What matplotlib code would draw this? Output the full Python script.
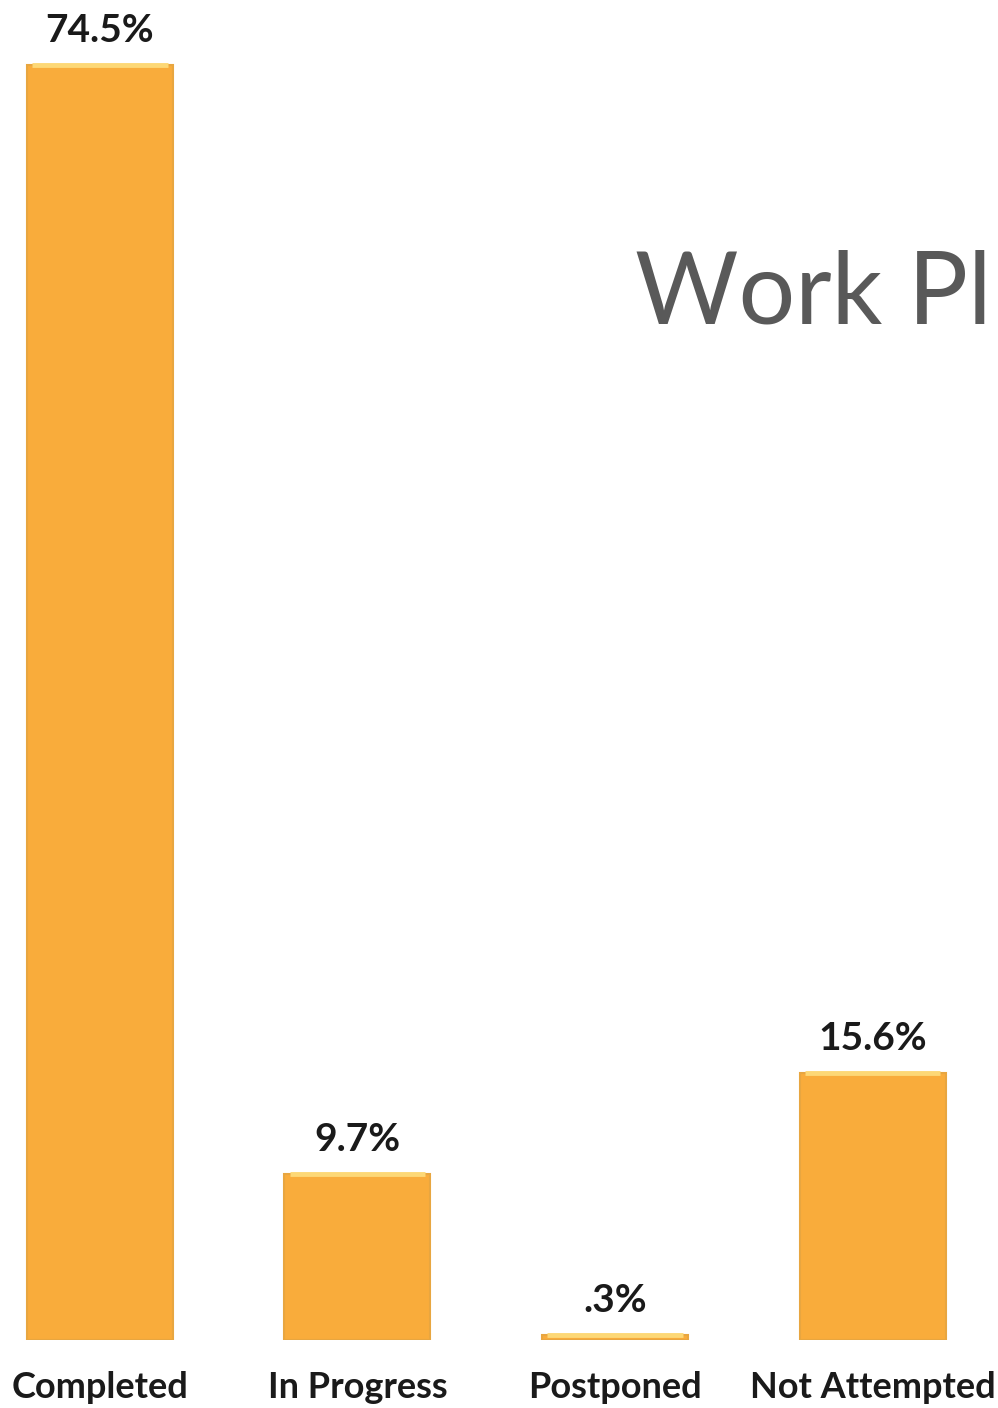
import matplotlib.pyplot as plt

# Work plan status shares (%)
categories = ['Completed', 'In Progress', 'Postponed', 'Not Attempted']
shares = [74.5, 9.7, 0.3, 15.6]
value_labels = ['74.5%', '9.7%', '.3%', '15.6%']

fig = plt.figure(figsize=(9.98, 14.08), dpi=100)
ax = fig.add_axes([0, 0.0483, 1, 0.9517])

bars = ax.bar(range(len(categories)), shares, width=0.567,
              color='#F9AC3B', edgecolor='#E8A640', linewidth=1.5)

# light bevel along the top of each bar
for b in bars:
    x0, y0 = b.get_x(), b.get_height()
    ax.plot([x0 + 0.02, x0 + b.get_width() - 0.02], [y0, y0],
            color='#FDD876', linewidth=3.5, solid_capstyle='butt')

ax.bar_label(bars, labels=value_labels, padding=12, fontsize=28,
             fontweight='bold', family='Lato', color='#1a1a1a')

ax.set_xlim(-0.388, 3.487)
ax.set_ylim(0, 78.3)
ax.set_xticks(range(len(categories)))
ax.set_xticklabels(categories, fontsize=26, fontweight='bold',
                   family='Lato', color='#1a1a1a')
ax.tick_params(axis='x', length=0, pad=22)
ax.set_yticks([])
for s in ax.spines.values():
    s.set_visible(False)

# title is clipped by the slide edge in the original
fig.text(992 / 998, 1 - 295 / 1408, 'Work Pl', fontsize=72,
         family='Lato', color='#595959', va='center', ha='right')

fig.savefig('out.png', dpi=100)
